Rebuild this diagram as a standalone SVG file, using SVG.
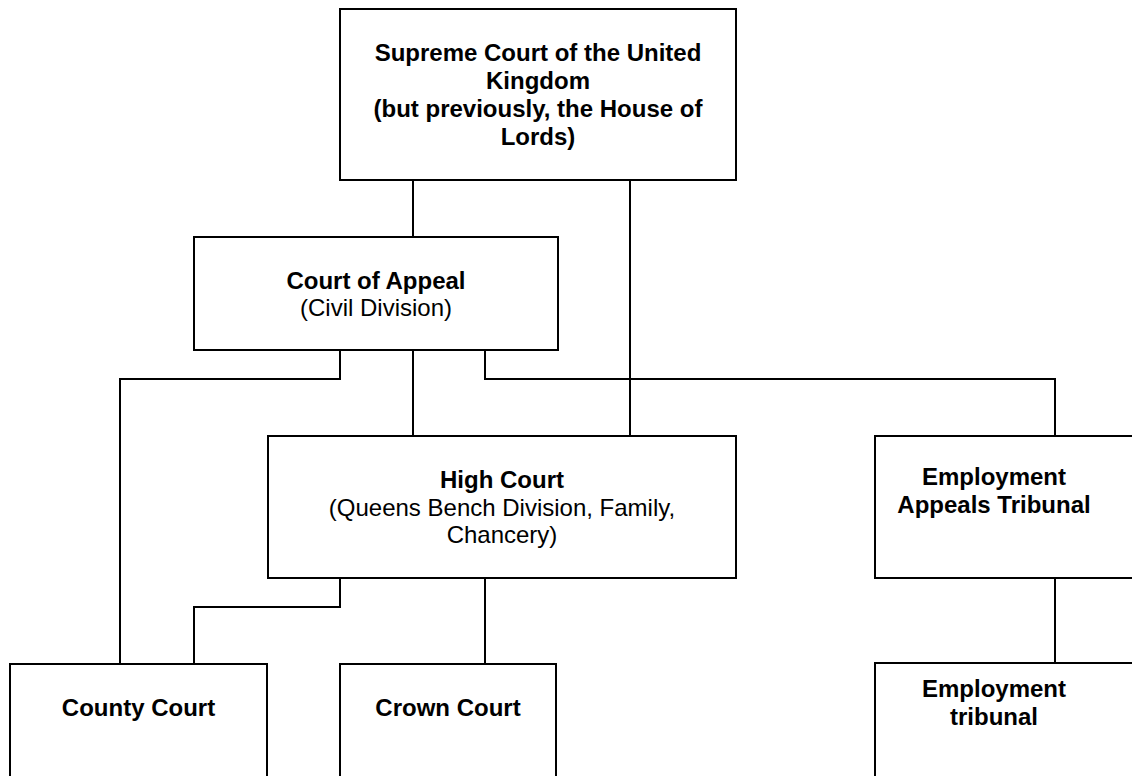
<svg xmlns="http://www.w3.org/2000/svg" width="1132" height="776" viewBox="0 0 1132 776">
<style>
.box{fill:#fff;stroke:#000;stroke-width:2}
.conn{fill:none;stroke:#000;stroke-width:2}
text{font-family:"Liberation Sans",Arial,Helvetica,sans-serif;font-size:24px;fill:#000;text-anchor:middle}
.b{font-weight:bold}
</style>
<rect width="1132" height="776" fill="#fff"/>
<g id="connectors">
<path class="conn" d="M413,180V237"/>
<path class="conn" d="M630,180V436"/>
<path class="conn" d="M340,350V379H120V664"/>
<path class="conn" d="M413,350V436"/>
<path class="conn" d="M485,350V379H1055V436"/>
<path class="conn" d="M1055,578V663"/>
<path class="conn" d="M340,578V607H194V664"/>
<path class="conn" d="M485,578V664"/>
</g>
<g id="supreme">
<rect class="box" x="340" y="9" width="396" height="171"/>
<text class="b" x="538" y="61">Supreme Court of the United</text>
<text class="b" x="538" y="89">Kingdom</text>
<text class="b" x="538" y="117">(but previously, the House of</text>
<text class="b" x="538" y="145">Lords)</text>
</g>
<g id="appeal">
<rect class="box" x="194" y="237" width="364" height="113"/>
<text class="b" x="376" y="289">Court of Appeal</text>
<text x="376" y="316">(Civil Division)</text>
</g>
<g id="high">
<rect class="box" x="268" y="436" width="468" height="142"/>
<text class="b" x="502" y="488">High Court</text>
<text x="502" y="516">(Queens Bench Division, Family,</text>
<text x="502" y="543">Chancery)</text>
</g>
<g id="eat">
<rect class="box" x="875" y="436" width="270" height="142"/>
<text class="b" x="994" y="485">Employment</text>
<text class="b" x="994" y="513">Appeals Tribunal</text>
</g>
<g id="county">
<rect class="box" x="10" y="664" width="257" height="130"/>
<text class="b" x="138.5" y="716">County Court</text>
</g>
<g id="crown">
<rect class="box" x="340" y="664" width="216" height="130"/>
<text class="b" x="448" y="716">Crown Court</text>
</g>
<g id="tribunal">
<rect class="box" x="875" y="663" width="270" height="130"/>
<text class="b" x="994" y="697">Employment</text>
<text class="b" x="994" y="725">tribunal</text>
</g>
</svg>
